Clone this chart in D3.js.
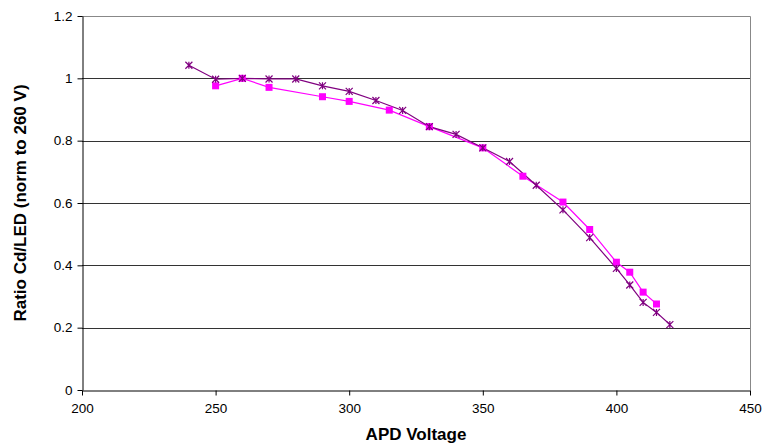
<!DOCTYPE html>
<html>
<head>
<meta charset="utf-8">
<script src="https://cdn.jsdelivr.net/npm/d3@7"></script>
<style>
  body { margin: 0; background: #fff; }
  text { font-family: "Liberation Sans", Arial, sans-serif; }
</style>
</head>
<body>
<div id="graphic"></div>
<script>
  var margin = { top: 16, left: 82, right: 13, bottom: 54 },
  width = 763 - margin.left - margin.right,
  height = 444 - margin.top - margin.bottom;

  /*** DATA ***/
  var cdVoltage = [240, 250, 260, 270, 280, 290, 300, 310, 320, 330, 340, 350, 360, 370, 380, 390, 400, 405, 410, 415, 420];
  var cdRatio   = [1.042, 0.997, 1.0, 0.998, 0.998, 0.976, 0.958, 0.929, 0.897, 0.845, 0.820, 0.777, 0.733, 0.657, 0.578, 0.489, 0.390, 0.337, 0.281, 0.249, 0.210];
  var ledVoltage = [250, 260, 270, 290, 300, 315, 330, 350, 365, 380, 390, 400, 405, 410, 415];
  var ledRatio   = [0.976, 1.0, 0.971, 0.941, 0.926, 0.898, 0.845, 0.777, 0.686, 0.603, 0.515, 0.410, 0.378, 0.314, 0.276];
  var xTicks = [200, 250, 300, 350, 400, 450];
  var yTicks = [0, 0.2, 0.4, 0.6, 0.8, 1, 1.2];

  var purple = "#800080";
  var magenta = "#ff00ff";

  var svg = d3.select("#graphic")
        .append("svg")
        .attr("width", width + margin.left + margin.right)
        .attr("height", height + margin.top + margin.bottom)
        .append("g")
        .attr("transform", "translate(" + margin.left + "," + margin.top + ")");

  /*** SCALES ***/
  var x = d3.scaleLinear().domain([200, 450]).range([0, width]);
  var y = d3.scaleLinear().domain([0, 1.2]).range([height, 0]);

  /*** GRIDLINES ***/
  svg.selectAll(".grid")
    .data(yTicks.filter(function(d) { return d > 0 && d < 1.2; }))
    .enter().append("line")
    .attr("x1", 0).attr("x2", width)
    .attr("y1", function(d) { return Math.round(y(d)) + 0.5; })
    .attr("y2", function(d) { return Math.round(y(d)) + 0.5; })
    .attr("stroke", "#333")
    .attr("stroke-width", 1);

  // plot border top/right
  svg.append("path")
    .attr("d", "M0," + 0.5 + "H" + (width + 0.5) + "V" + height)
    .attr("fill", "none")
    .attr("stroke", "#888")
    .attr("stroke-width", 1);

  /*** AXES ***/
  var xAxis = svg.append("g")
    .attr("transform", "translate(0," + (height + 0.5) + ")")
    .call(d3.axisBottom(x).tickValues(xTicks).tickSize(5).tickSizeOuter(0).tickFormat(d3.format("d")));
  var yAxis = svg.append("g")
    .attr("transform", "translate(0.5,0)")
    .call(d3.axisLeft(y).tickValues(yTicks).tickSize(5).tickSizeOuter(0).tickFormat(function(d) { return d; }));

  [xAxis, yAxis].forEach(function(a) {
    a.select(".domain").attr("stroke", "#000");
    a.selectAll(".tick line").attr("stroke", "#000");
    a.selectAll(".tick text")
      .attr("fill", "#000")
      .style("font-size", "13.5px")
      .style("font-family", "Liberation Sans, Arial, sans-serif");
  });
  xAxis.selectAll(".tick text").attr("dy", "0.71em").attr("y", 13);
  yAxis.selectAll(".tick text").attr("x", -10);

  /*** TITLES ***/
  svg.append("text")
    .attr("x", width / 2)
    .attr("y", height + 50)
    .attr("text-anchor", "middle")
    .style("font-size", "17px")
    .style("font-weight", "bold")
    .text("APD Voltage");

  svg.append("text")
    .attr("transform", "translate(" + (-56) + "," + (height / 2) + ") rotate(-90)")
    .attr("text-anchor", "middle")
    .style("font-size", "17px")
    .style("font-weight", "bold")
    .text("Ratio Cd/LED (norm to 260 V)");

  /*** LINES ***/
  var line = d3.line()
    .x(function(d) { return x(d[0]); })
    .y(function(d) { return y(d[1]); });

  var ledData = d3.zip(ledVoltage, ledRatio);
  var cdData = d3.zip(cdVoltage, cdRatio);

  svg.append("path")
    .attr("d", line(ledData))
    .attr("fill", "none")
    .attr("stroke", magenta)
    .attr("stroke-width", 1.2);

  svg.append("path")
    .attr("d", line(cdData))
    .attr("fill", "none")
    .attr("stroke", purple)
    .attr("stroke-width", 1.2);

  /*** MARKERS ***/
  svg.selectAll(".sq")
    .data(ledData).enter().append("rect")
    .attr("x", function(d) { return x(d[0]) - 3.5; })
    .attr("y", function(d) { return y(d[1]) - 3.5; })
    .attr("width", 7).attr("height", 7)
    .attr("fill", magenta);

  var s = 3.5;
  svg.selectAll(".star")
    .data(cdData).enter().append("path")
    .attr("d", function(d) {
      var cx = x(d[0]), cy = y(d[1]);
      return "M" + (cx - s) + "," + (cy - s) + "L" + (cx + s) + "," + (cy + s) +
             "M" + (cx - s) + "," + (cy + s) + "L" + (cx + s) + "," + (cy - s) +
             "M" + cx + "," + (cy - s) + "L" + cx + "," + (cy + s);
    })
    .attr("fill", "none")
    .attr("stroke", purple)
    .attr("stroke-width", 1.2);
</script>
</body>
</html>
